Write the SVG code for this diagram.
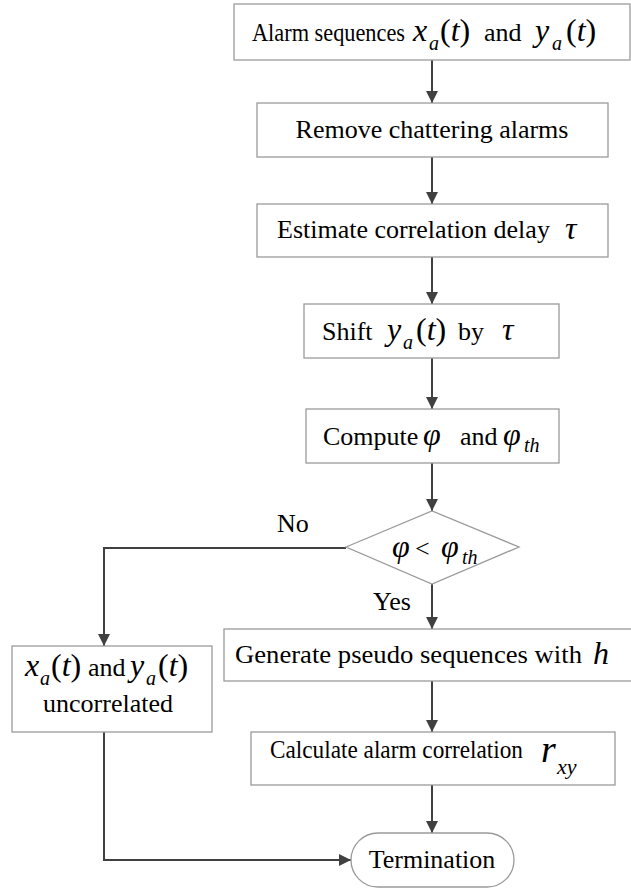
<svg xmlns="http://www.w3.org/2000/svg" width="631" height="888" viewBox="0 0 631 888">
<defs>
<marker id="ah" markerWidth="12" markerHeight="12" refX="12" refY="6" orient="auto" markerUnits="userSpaceOnUse">
<path d="M0,0 L12,6 L0,12 z" fill="#404040"/>
</marker>
</defs>
<style>
.box{fill:#fff;stroke:#9a9a9a;stroke-width:1.3}
.c{fill:none;stroke:#404040;stroke-width:2}
</style>
<rect width="631" height="888" fill="#fff"/>

<g id="connectors">
<line class="c" x1="432" y1="60" x2="432" y2="103" marker-end="url(#ah)"/>
<line class="c" x1="432" y1="157" x2="432" y2="204" marker-end="url(#ah)"/>
<line class="c" x1="432" y1="257" x2="432" y2="304" marker-end="url(#ah)"/>
<line class="c" x1="432" y1="358" x2="432" y2="409" marker-end="url(#ah)"/>
<line class="c" x1="432" y1="463" x2="432" y2="511" marker-end="url(#ah)"/>
<line class="c" x1="432" y1="584" x2="432" y2="629" marker-end="url(#ah)"/>
<line class="c" x1="432" y1="681" x2="432" y2="732" marker-end="url(#ah)"/>
<line class="c" x1="432" y1="785" x2="432" y2="833" marker-end="url(#ah)"/>
<polyline class="c" points="346,548 104,548 104,646" marker-end="url(#ah)"/>
<polyline class="c" points="104,732 104,860 351,860" marker-end="url(#ah)"/>
<text x="277" y="532" font-family="Liberation Serif" font-size="26">No</text>
<text x="373" y="610" font-family="Liberation Serif" font-size="26">Yes</text>
</g>

<g id="n1">
<rect class="box" x="234" y="4" width="396" height="56"/>
<text x="252" y="41" textLength="153" lengthAdjust="spacingAndGlyphs" font-family="Liberation Serif" font-size="25">Alarm sequences</text>
<text x="413" y="41" font-family="Liberation Serif" font-size="32" font-style="italic">x</text>
<text x="429" y="50" font-family="Liberation Serif" font-size="20" font-style="italic">a</text>
<text x="440" y="41" font-family="Liberation Serif" font-size="32">(<tspan font-style="italic">t</tspan>)</text>
<text x="484" y="41" font-family="Liberation Serif" font-size="26">and</text>
<text x="535" y="41" font-family="Liberation Serif" font-size="32" font-style="italic">y</text>
<text x="552" y="50" font-family="Liberation Serif" font-size="20" font-style="italic">a</text>
<text x="566" y="41" font-family="Liberation Serif" font-size="32">(<tspan font-style="italic">t</tspan>)</text>
</g>

<g id="n2">
<rect class="box" x="257" y="103" width="351" height="54"/>
<text x="432" y="138" text-anchor="middle" font-family="Liberation Serif" font-size="26">Remove chattering alarms</text>
</g>

<g id="n3">
<rect class="box" x="257" y="204" width="351" height="53"/>
<text x="277" y="238" font-family="Liberation Serif" font-size="26">Estimate correlation delay</text>
<text x="565" y="239" font-family="Liberation Serif" font-size="32" font-style="italic">&#964;</text>
</g>

<g id="n4">
<rect class="box" x="304" y="304" width="255" height="54"/>
<text x="322" y="340" font-family="Liberation Serif" font-size="26">Shift</text>
<text x="387" y="340" font-family="Liberation Serif" font-size="32" font-style="italic">y</text>
<text x="403" y="349" font-family="Liberation Serif" font-size="20" font-style="italic">a</text>
<text x="416" y="340" font-family="Liberation Serif" font-size="32">(<tspan font-style="italic">t</tspan>)</text>
<text x="458" y="340" font-family="Liberation Serif" font-size="26">by</text>
<text x="502" y="340" font-family="Liberation Serif" font-size="32" font-style="italic">&#964;</text>
</g>

<g id="n5">
<rect class="box" x="306" y="409" width="253" height="54"/>
<text x="323" y="445" font-family="Liberation Serif" font-size="26">Compute</text>
<text x="423" y="445" font-family="Liberation Serif" font-size="32" font-style="italic">&#966;</text>
<text x="460" y="445" font-family="Liberation Serif" font-size="26">and</text>
<text x="503" y="445" font-family="Liberation Serif" font-size="32" font-style="italic">&#966;</text>
<text x="524" y="452" font-family="Liberation Serif" font-size="20" font-style="italic">th</text>
</g>

<g id="n6">
<polygon class="box" points="346,547 432,511 519,547 432,584"/>
<text x="392" y="557" font-family="Liberation Serif" font-size="32" font-style="italic">&#966;</text>
<text x="415" y="557" font-family="Liberation Serif" font-size="26">&lt;</text>
<text x="441" y="557" font-family="Liberation Serif" font-size="32" font-style="italic">&#966;</text>
<text x="462" y="564" font-family="Liberation Serif" font-size="20" font-style="italic">th</text>
</g>

<g id="n7">
<rect class="box" x="12" y="646" width="200" height="86"/>
<text x="25" y="676" font-family="Liberation Serif" font-size="32" font-style="italic">x</text>
<text x="40" y="685" font-family="Liberation Serif" font-size="20" font-style="italic">a</text>
<text x="51" y="676" font-family="Liberation Serif" font-size="32">(<tspan font-style="italic">t</tspan>)</text>
<text x="88" y="676" font-family="Liberation Serif" font-size="26">and</text>
<text x="130" y="676" font-family="Liberation Serif" font-size="32" font-style="italic">y</text>
<text x="146" y="685" font-family="Liberation Serif" font-size="20" font-style="italic">a</text>
<text x="158" y="676" font-family="Liberation Serif" font-size="32">(<tspan font-style="italic">t</tspan>)</text>
<text x="108" y="712" text-anchor="middle" font-family="Liberation Serif" font-size="26">uncorrelated</text>
</g>

<g id="n8">
<rect class="box" x="224" y="629" width="412" height="52"/>
<text x="235" y="663" textLength="347" lengthAdjust="spacingAndGlyphs" font-family="Liberation Serif" font-size="26">Generate pseudo sequences with</text>
<text x="593" y="664" font-family="Liberation Serif" font-size="32" font-style="italic">h</text>
</g>

<g id="n9">
<rect class="box" x="251" y="732" width="364" height="53"/>
<text x="270" y="758" textLength="253" lengthAdjust="spacingAndGlyphs" font-family="Liberation Serif" font-size="25">Calculate alarm correlation</text>
<text x="541" y="762" font-family="Liberation Serif" font-size="38" font-style="italic">r</text>
<text x="557" y="774" font-family="Liberation Serif" font-size="22" font-style="italic">xy</text>
</g>

<g id="n10">
<rect class="box" x="351" y="833" width="163" height="54" rx="27"/>
<text x="432" y="868" text-anchor="middle" font-family="Liberation Serif" font-size="26">Termination</text>
</g>
</svg>
